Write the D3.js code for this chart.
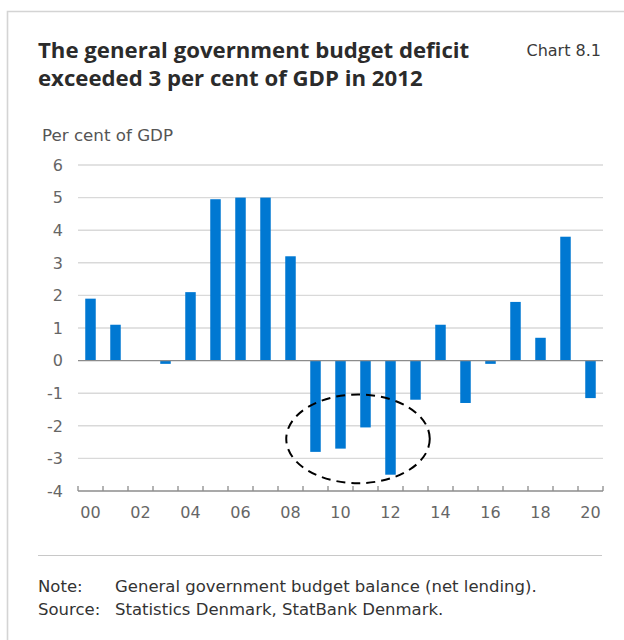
<!DOCTYPE html>
<html>
<head>
<meta charset="utf-8">
<script src="https://cdn.jsdelivr.net/npm/d3@7"></script>
<style>
  html, body { margin: 0; padding: 0; background: #fff; }
  svg { display: block; }
  text { font-family: "DejaVu Sans", "Noto Sans", sans-serif; }
  text.title { font-family: "Open Sans", "Noto Sans", sans-serif; }
</style>
</head>
<body>
<svg id="chart" width="624" height="640"></svg>
<script>
// ---- data ----
const years = ["2000","2001","2002","2003","2004","2005","2006","2007","2008","2009","2010",
               "2011","2012","2013","2014","2015","2016","2017","2018","2019","2020"];
const balance = [1.9, 1.1, 0.0, -0.1, 2.1, 4.95, 5.0, 5.0, 3.2, -2.8, -2.7,
                 -2.05, -3.5, -1.2, 1.1, -1.3, -0.1, 1.8, 0.7, 3.8, -1.15];
const xTickLabels = ["00","02","04","06","08","10","12","14","16","18","20"];
const yTicks = [-4, -3, -2, -1, 0, 1, 2, 3, 4, 5, 6];
const titleLines = ["The general government budget deficit", "exceeded 3 per cent of GDP in 2012"];
const chartNo = "Chart 8.1";
const yAxisTitle = "Per cent of GDP";
const footNotes = [["Note:", "General government budget balance (net lending)."],
                   ["Source:", "Statistics Denmark, StatBank Denmark."]];
// highlight ellipse in data units (year index / value)
const highlight = { centerIndex: 10.7, halfWidth: 2.87, centerValue: -2.4, halfHeight: 1.36 };

// ---- layout ----
const svg = d3.select("#chart");
const plot = { left: 78, right: 603, top: 165, bottom: 491 };
const barColor = "#0078d2";

// card
svg.append("path")
  .attr("d", `M7.5,640 L7.5,11.5 L624,11.5`)
  .attr("fill", "none").attr("stroke", "#d4d4d4").attr("stroke-width", 1.6);

// titles
const title = svg.append("text").attr("class", "title").attr("x", 38).attr("y", 58)
  .attr("font-size", 22.2).attr("font-weight", 700).attr("fill", "#2b2b2b");
titleLines.forEach((t, i) => title.append("tspan").attr("x", 38).attr("dy", i === 0 ? 0 : 28).text(t));

svg.append("text").attr("x", 601).attr("y", 56).attr("text-anchor", "end")
  .attr("font-size", 16).attr("fill", "#3a3a3a").text(chartNo);

svg.append("text").attr("x", 42).attr("y", 141).attr("font-size", 16.7)
  .attr("fill", "#555").text(yAxisTitle);

// scales
const x = d3.scaleBand().domain(years).range([plot.left, plot.right])
  .paddingInner(0.58).paddingOuter(0.29);
const xi = d3.scaleLinear().domain([-0.5, years.length - 0.5]).range([plot.left, plot.right]);
const y = d3.scaleLinear().domain([-4, 6]).range([plot.bottom, plot.top]);

// gridlines
svg.append("g").selectAll("line").data(yTicks.filter(d => d !== 0 && d !== -4)).join("line")
  .attr("x1", plot.left).attr("x2", plot.right)
  .attr("y1", d => y(d)).attr("y2", d => y(d))
  .attr("stroke", "#d9d9d9").attr("stroke-width", 1.4);

// y labels
svg.append("g").selectAll("text").data(yTicks).join("text")
  .attr("x", 63).attr("y", d => y(d)).attr("dy", "0.36em")
  .attr("text-anchor", "end").attr("font-size", 16).attr("fill", "#666")
  .text(d => d);

// bars
svg.append("g").selectAll("rect").data(years.map((yr, i) => ({ yr, v: balance[i] }))).join("rect")
  .attr("x", d => x(d.yr)).attr("width", x.bandwidth())
  .attr("y", d => y(Math.max(0, d.v)))
  .attr("height", d => Math.abs(y(d.v) - y(0)))
  .attr("fill", barColor);

// zero line
svg.append("line").attr("x1", plot.left).attr("x2", plot.right)
  .attr("y1", y(0)).attr("y2", y(0)).attr("stroke", "#8c8c8c").attr("stroke-width", 1.3);

// bottom axis line with upward ticks at band boundaries
svg.append("line").attr("x1", plot.left).attr("x2", plot.right)
  .attr("y1", y(-4)).attr("y2", y(-4)).attr("stroke", "#8c8c8c").attr("stroke-width", 1.3);
svg.append("g").selectAll("line").data(d3.range(years.length + 1)).join("line")
  .attr("x1", i => xi(i - 0.5)).attr("x2", i => xi(i - 0.5))
  .attr("y1", y(-4)).attr("y2", y(-4) - 5)
  .attr("stroke", "#8c8c8c").attr("stroke-width", 1.3);

// x labels
svg.append("g").selectAll("text").data(xTickLabels).join("text")
  .attr("x", d => x("20" + d) + x.bandwidth() / 2).attr("y", 518)
  .attr("text-anchor", "middle").attr("font-size", 16).attr("fill", "#666")
  .text(d => d);

// dashed ellipse
svg.append("ellipse")
  .attr("cx", xi(highlight.centerIndex))
  .attr("cy", y(highlight.centerValue))
  .attr("rx", xi(highlight.halfWidth) - xi(0))
  .attr("ry", y(0) - y(highlight.halfHeight))
  .attr("fill", "none").attr("stroke", "#000").attr("stroke-width", 2)
  .attr("stroke-dasharray", "9,6");

// separator
svg.append("line").attr("x1", 38).attr("x2", 602).attr("y1", 555.5).attr("y2", 555.5)
  .attr("stroke", "#c8c8c8").attr("stroke-width", 1.2);

// notes
footNotes.forEach((n, i) => {
  svg.append("text").attr("x", 38).attr("y", 592 + i * 23).attr("font-size", 16.5)
    .attr("fill", "#333").text(n[0]);
  svg.append("text").attr("x", 115).attr("y", 592 + i * 23).attr("font-size", 16.5)
    .attr("fill", "#333").text(n[1]);
});
</script>
</body>
</html>
